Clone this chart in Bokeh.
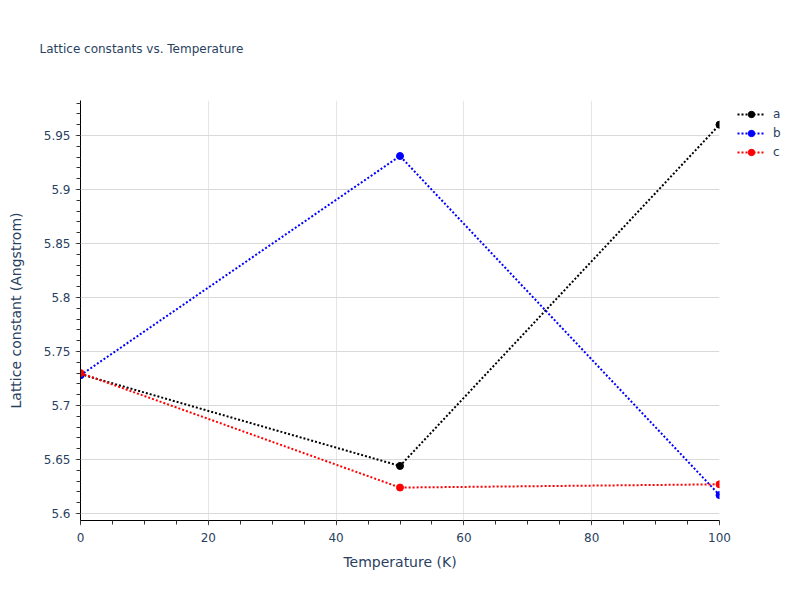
from bokeh.plotting import figure
from bokeh.layouts import row
from bokeh.models import (Range1d, Legend, LegendItem, FixedTicker,
                          ColumnDataSource, Title)
from bokeh.embed import file_html
from bokeh.resources import INLINE

temperature = [0, 50, 100]
a_vals = [5.729, 5.644, 5.960]
b_vals = [5.728, 5.931, 5.617]
c_vals = [5.730, 5.624, 5.627]
series_names = ["a", "b", "c"]
series_colors = ["black", "blue", "red"]
x_major = [0, 20, 40, 60, 80, 100]
x_minor = list(range(0, 101, 5))
y_major = [5.6, 5.65, 5.7, 5.75, 5.8, 5.85, 5.9, 5.95]
y_minor = [round(5.59 + 0.01 * i, 2) for i in range(0, 40)]

TEXT = "#2a3f5f"
FONT = "DejaVu Sans"

p = figure(width=731, height=600, output_backend="svg", toolbar_location=None,
           x_range=Range1d(0, 100), y_range=Range1d(5.5935, 5.9824),
           min_border_left=80, min_border_right=12, min_border_top=100,
           min_border_bottom=80, background_fill_color="white",
           border_fill_color="white", outline_line_color=None, title=None)

for ax in (p.xaxis[0], p.yaxis[0]):
    ax.axis_line_color = "black"
    ax.axis_line_width = 1
    ax.major_tick_line_color = "#999999"
    ax.major_tick_out = 5
    ax.major_tick_in = 0
    ax.minor_tick_line_color = "#333333"
    ax.minor_tick_out = 4
    ax.minor_tick_in = 0
    ax.major_label_text_font = FONT
    ax.major_label_text_font_size = "12px"
    ax.major_label_text_color = TEXT
    ax.axis_label_text_font = FONT
    ax.axis_label_text_font_size = "14px"
    ax.axis_label_text_color = TEXT
    ax.axis_label_text_font_style = "normal"
    ax.major_label_standoff = 5

p.xaxis[0].ticker = FixedTicker(ticks=x_major, minor_ticks=x_minor)
p.yaxis[0].ticker = FixedTicker(ticks=y_major, minor_ticks=y_minor)
p.xaxis[0].axis_label = "Temperature (K)"
p.yaxis[0].axis_label = "Lattice constant (Angstrom)"
p.xaxis[0].major_label_standoff = 7
p.xaxis[0].axis_label_standoff = 9
p.yaxis[0].axis_label_standoff = 17

p.xgrid[0].ticker = FixedTicker(ticks=[20, 40, 60, 80])
p.xgrid[0].grid_line_color = "#e6e6e6"
p.xgrid[0].grid_line_width = 1
p.ygrid[0].ticker = FixedTicker(ticks=y_major)
p.ygrid[0].grid_line_color = "#d9d9d9"
p.ygrid[0].grid_line_width = 1

# small companion canvas on the right that holds the legend
q = figure(width=69, height=600, output_backend="svg", toolbar_location=None,
           x_axis_type=None, y_axis_type=None, title=None,
           x_range=Range1d(-20, -10), y_range=Range1d(0, 1),
           min_border=0, outline_line_color=None,
           background_fill_color="white", border_fill_color="white")
q.grid.visible = False

items = []
for name, vals, col in zip(series_names, [a_vals, b_vals, c_vals], series_colors):
    src = ColumnDataSource(dict(x=temperature, y=vals))
    p.line("x", "y", source=src, line_color=col, line_width=2, line_dash="2 2")
    p.scatter("x", "y", source=src, size=7, fill_color=col, line_color=col,
              marker="circle")
    l2 = q.line("x", "y", source=src, line_color=col, line_width=2,
                line_dash="2 2")
    s2 = q.scatter("x", "y", source=src, size=7, fill_color=col,
                   line_color=col, marker="circle")
    items.append(LegendItem(label=name, renderers=[l2, s2]))

legend = Legend(items=items, location=(6, 360),
                background_fill_alpha=0, border_line_color=None,
                label_text_font=FONT, label_text_font_size="12px",
                label_text_color=TEXT, glyph_width=28, glyph_height=16,
                label_standoff=8, label_width=20, label_height=16,
                spacing=3, padding=0, margin=0)
q.add_layout(legend, "center")

# spacer (closest to the frame) then the real title further up
spacer = Title(text=" ", text_font=FONT, text_font_size="37px",
               text_color="white", standoff=0)
p.add_layout(spacer, "above")
title = Title(text="Lattice constants vs. Temperature", text_font=FONT,
              text_font_size="12px", text_color=TEXT,
              text_font_style="normal", align="left", offset=-41, standoff=0)
p.add_layout(title, "above")

layout = row(p, q, spacing=0)
open("out.html", "w").write(file_html(layout, INLINE))
